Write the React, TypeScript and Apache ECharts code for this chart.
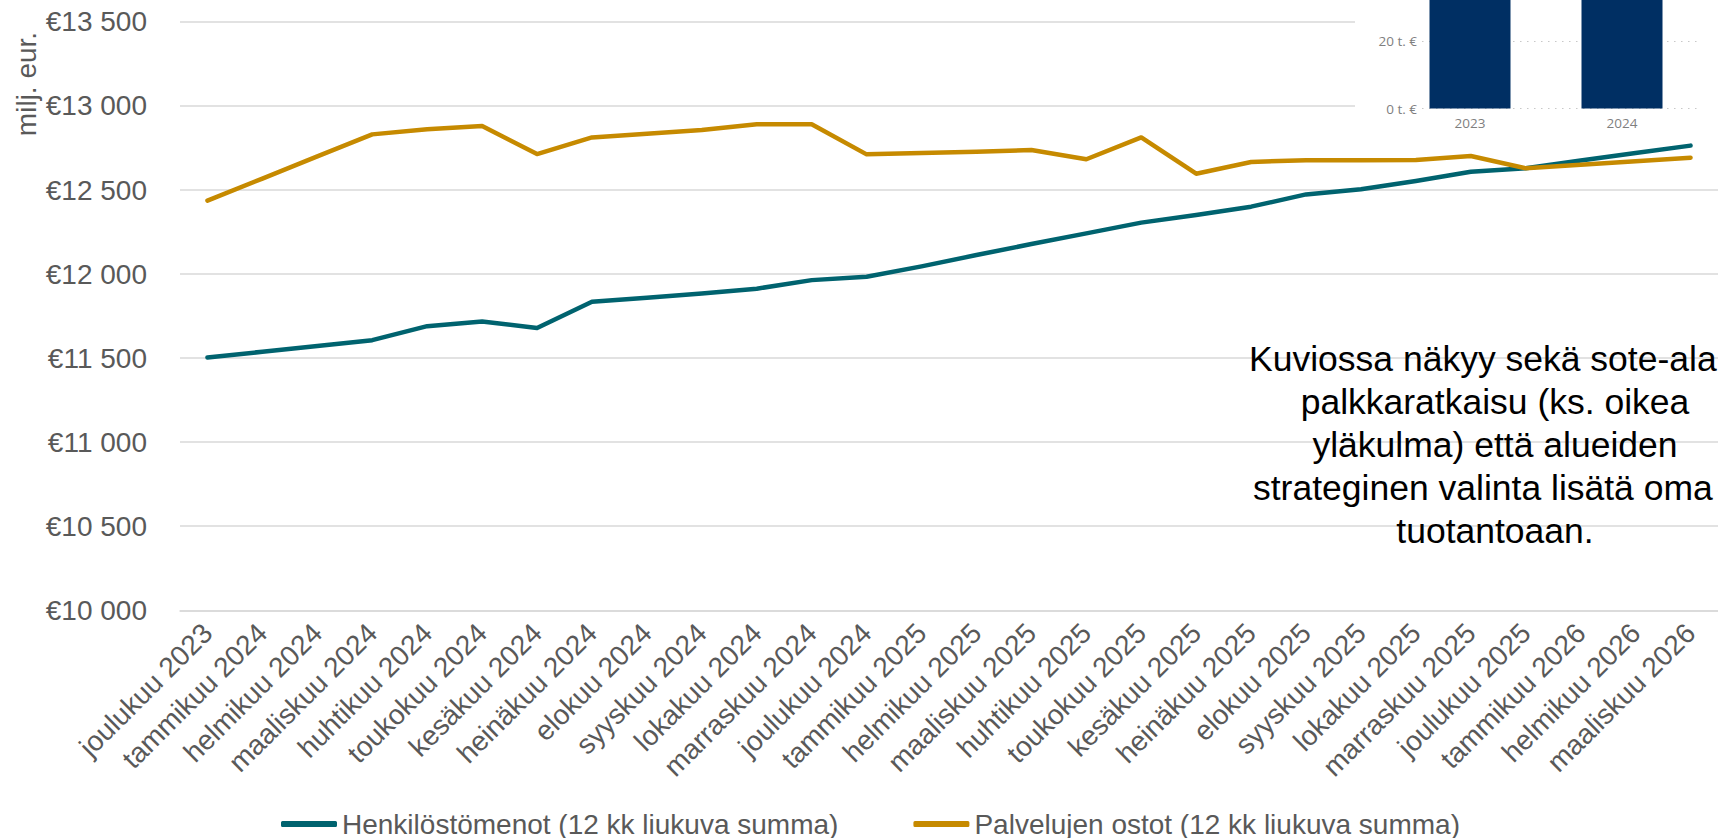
import React, { useEffect, useRef } from "react";
import * as echarts from "echarts";

const categories = [
  "joulukuu 2023", "tammikuu 2024", "helmikuu 2024", "maaliskuu 2024", "huhtikuu 2024",
  "toukokuu 2024", "kesäkuu 2024", "heinäkuu 2024", "elokuu 2024", "syyskuu 2024",
  "lokakuu 2024", "marraskuu 2024", "joulukuu 2024", "tammikuu 2025", "helmikuu 2025",
  "maaliskuu 2025", "huhtikuu 2025", "toukokuu 2025", "kesäkuu 2025", "heinäkuu 2025",
  "elokuu 2025", "syyskuu 2025", "lokakuu 2025", "marraskuu 2025", "joulukuu 2025",
  "tammikuu 2026", "helmikuu 2026", "maaliskuu 2026",
];

const henkilostomenot = [
  11504, 11538, 11572, 11607, 11690, 11718, 11679, 11835, 11859, 11885,
  11913, 11964, 11984, 12046, 12113, 12179, 12242, 12306, 12351, 12401,
  12474, 12504, 12554, 12609, 12629, 12675, 12720, 12764,
];

const palvelujenOstot = [
  12437, 12568, 12700, 12831, 12861, 12881, 12714, 12813, 12835, 12857,
  12891, 12891, 12712, 12720, 12728, 12738, 12683, 12813, 12597, 12667,
  12677, 12677, 12679, 12702, 12629, 12650, 12671, 12692,
];

const seriesNames = [
  "Henkilöstömenot (12 kk liukuva summa)",
  "Palvelujen ostot (12 kk liukuva summa)",
];

const insetYears = ["2023", "2024"];
const insetValues = [38, 40];

const yAxisTitle = "milj. eur.";

const annotationLines = [
  "Kuviossa näkyy sekä sote-ala",
  "palkkaratkaisu (ks. oikea",
  "yläkulma) että alueiden",
  "strateginen valinta lisätä oma",
  "tuotantoaan.",
];

const FONT = "'Liberation Sans', Arial, sans-serif";
const GRAY = "#595959";

function fmtEuro(v: number): string {
  const s = String(Math.round(v));
  const th = s.slice(0, s.length - 3);
  const rest = s.slice(s.length - 3);
  return "€" + (th ? th + " " + rest : rest);
}

export default function App() {
  const ref = useRef<HTMLDivElement>(null);
  useEffect(() => {
    document.body.style.margin = "0";
    const chart = echarts.init(ref.current!, null, { renderer: "svg" });

    const annAligns = ["left", "center", "center", "left", "center"];
    const annX = [1249, 1495, 1495, 1253, 1495];
    const annGraphics = annotationLines.map((t, i) => ({
      type: "text",
      x: annX[i],
      y: 358.7 + 43.15 * i,
      z: 10,
      style: {
        text: t,
        fill: "#000000",
        fontSize: 35.5,
        fontFamily: FONT,
        align: annAligns[i],
        verticalAlign: "middle",
      },
    }));

    chart.setOption({
      animation: false,
      backgroundColor: "#ffffff",
      grid: [
        { left: 180, top: 21.9, width: 1540, height: 588.4 },
        { left: 1394, top: 7.7, width: 304, height: 100.8 },
      ],
      xAxis: [
        {
          type: "category",
          gridIndex: 0,
          data: categories,
          axisLine: { lineStyle: { color: "#d9d9d9", width: 1.5 } },
          axisTick: { length: 7, lineStyle: { color: "#d9d9d9", width: 1.5 } },
          axisLabel: {
            rotate: 45,
            interval: 0,
            color: GRAY,
            fontFamily: FONT,
            fontSize: 28,
            margin: 18,
          },
          splitLine: { show: false },
        },
        {
          type: "category",
          gridIndex: 1,
          data: insetYears,
          z: 3,
          axisLine: { show: false },
          axisTick: { show: false },
          axisLabel: {
            color: "#7f7f7f",
            fontFamily: "'Open Sans', sans-serif",
            fontSize: 13.5,
            margin: 7,
          },
          splitLine: { show: false },
        },
      ],
      yAxis: [
        {
          type: "value",
          gridIndex: 0,
          min: 10000,
          max: 13500,
          interval: 500,
          axisLine: { show: false },
          axisTick: { show: false },
          axisLabel: {
            formatter: (v: number) => fmtEuro(v),
            color: GRAY,
            fontFamily: FONT,
            fontSize: 28,
            margin: 33,
          },
          splitLine: { lineStyle: { color: "#d9d9d9", width: 1.5 } },
        },
        {
          type: "value",
          gridIndex: 1,
          min: 0,
          max: 30,
          interval: 20,
          z: 3,
          axisLine: { show: false },
          axisTick: { show: false },
          axisLabel: {
            formatter: (v: number) => (v % 20 === 0 ? v + " t. €" : ""),
            showMaxLabel: false,
            color: "#7f7f7f",
            fontFamily: "'Open Sans', sans-serif",
            fontSize: 13.5,
            margin: -23,
            backgroundColor: "#ffffff",
          },
          splitLine: {
            showMaxLine: false,
            lineStyle: { color: "#c8c8c8", width: 1.2, type: [1.5, 5.5] },
          },
        },
      ],
      legend: {
        data: seriesNames,
        left: 276,
        top: 805,
        icon: "roundRect",
        itemWidth: 56,
        itemHeight: 6,
        itemGap: 75,
        textStyle: { color: GRAY, fontFamily: FONT, fontSize: 28 },
      },
      series: [
        {
          name: seriesNames[0],
          type: "line",
          xAxisIndex: 0,
          yAxisIndex: 0,
          data: henkilostomenot,
          color: "#00636F",
          symbol: "none",
          lineStyle: { width: 4.5, cap: "round", join: "round" },
          z: 2,
        },
        {
          name: seriesNames[1],
          type: "line",
          xAxisIndex: 0,
          yAxisIndex: 0,
          data: palvelujenOstot,
          color: "#C68A00",
          symbol: "none",
          lineStyle: { width: 4.5, cap: "round", join: "round" },
          z: 2,
        },
        {
          type: "bar",
          xAxisIndex: 1,
          yAxisIndex: 1,
          data: insetValues,
          barWidth: 81,
          clip: false,
          itemStyle: { color: "#002F63" },
          z: 3,
        },
      ],
      graphic: [
        {
          type: "rect",
          z: 1,
          shape: { x: 1355, y: 0, width: 363, height: 138 },
          style: { fill: "#ffffff" },
        },
        {
          type: "text",
          x: 26,
          y: 84,
          rotation: Math.PI / 2,
          z: 10,
          style: {
            text: yAxisTitle,
            fill: GRAY,
            fontSize: 28,
            fontFamily: FONT,
            align: "center",
            verticalAlign: "middle",
          },
        },
        ...annGraphics,
      ],
    });
    return () => chart.dispose();
  }, []);
  return (
    <div
      ref={ref}
      style={{ position: "fixed", left: 0, top: 0, width: 1718, height: 838 }}
    />
  );
}
